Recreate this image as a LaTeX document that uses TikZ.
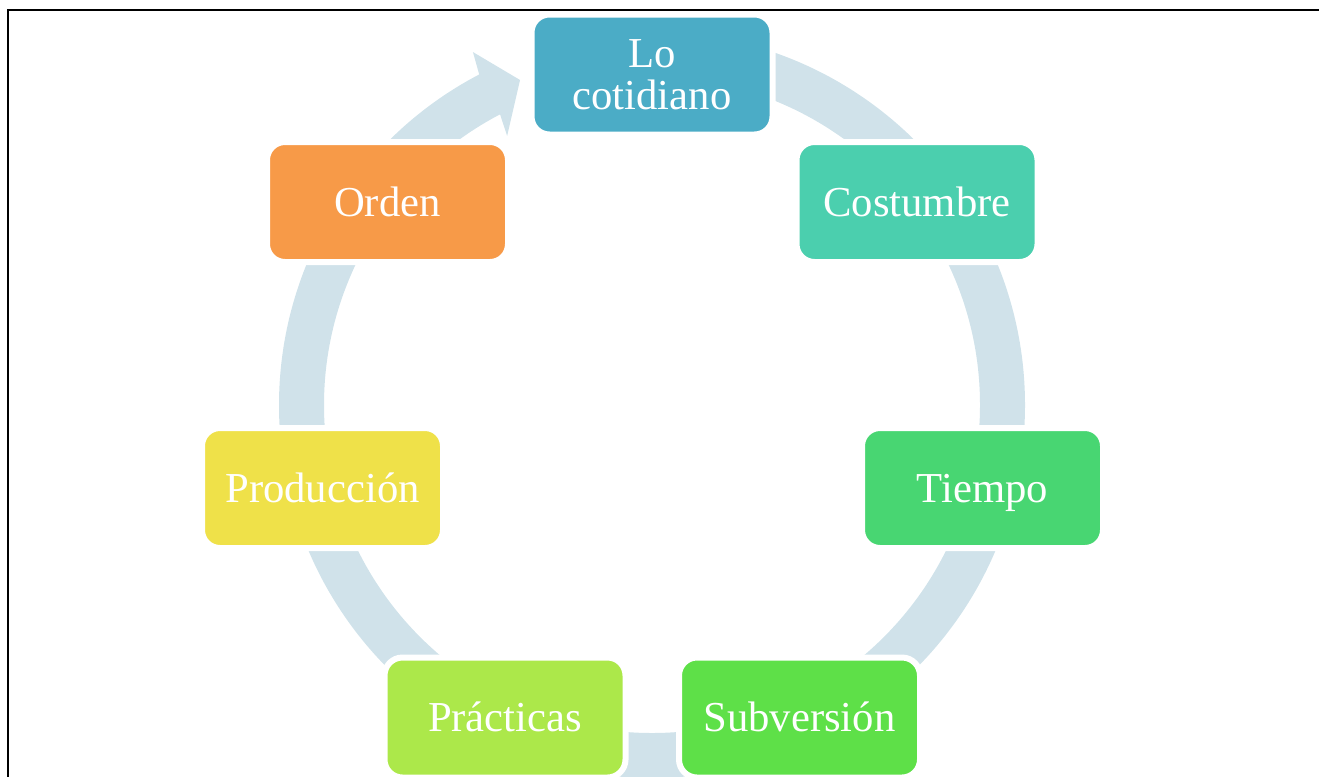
\documentclass[tikz,border=0pt]{standalone}
\usepackage{fontspec}
\setmainfont{Liberation Serif}
\usetikzlibrary{calc}
\definecolor{ringc}{RGB}{208,226,234}
\definecolor{cLo}{RGB}{75,172,198}
\definecolor{cCos}{RGB}{75,207,174}
\definecolor{cTie}{RGB}{72,214,114}
\definecolor{cSub}{RGB}{94,224,72}
\definecolor{cPra}{RGB}{172,232,74}
\definecolor{cPro}{RGB}{239,225,73}
\definecolor{cOrd}{RGB}{247,154,72}
\begin{document}
\begin{tikzpicture}[x=0.75pt,y=0.75pt,
  box/.style={rectangle, rounded corners=13.5pt, draw=white, line width=4.5pt,
    minimum width=180.75pt, minimum height=90pt, inner sep=0pt, text=white,
    align=center, font=\fontsize{32}{31.5}\selectfont},
  onebox/.style={box, text height=21pt, text depth=0pt},
  ring/.style={draw=ringc, line width=33.75pt},
  frame/.style={draw=black, line width=2pt}]
\useasboundingbox (0,0) rectangle (1319,-776);
\clip (0,0) rectangle (1319,-776);
\draw[frame] (8,-800) -- (8,-10) -- (1340,-10);
\coordinate (c) at (652,-405);
\draw[ring] ($(c)+(90:350.5)$) arc (90:-242.8:350.5);
\fill[ringc] ($(c)+(117.6:373)$) -- ($(c)+(116.9:395.8)$) -- ($(c)+(112.1:350.8)$)
  -- ($(c)+(118.3:305.6)$) -- ($(c)+(117.6:328)$) -- cycle;
\node[box, fill=cLo]  (lo)  at (652,-74.5)   {Lo\\cotidiano};
\node[onebox, fill=cCos] (cos) at (917,-202)    {Costumbre};
\node[onebox, fill=cTie] (tie) at (982.5,-488)  {Tiempo};
\node[onebox, fill=cSub] (sub) at (799.5,-717.5) {Subversión};
\node[onebox, fill=cPra] (pra) at (505,-717.5)  {Prácticas};
\node[onebox, fill=cPro] (pro) at (322.5,-488)  {Producción};
\node[onebox, fill=cOrd] (ord) at (387.5,-202)  {Orden};
\end{tikzpicture}
\end{document}
